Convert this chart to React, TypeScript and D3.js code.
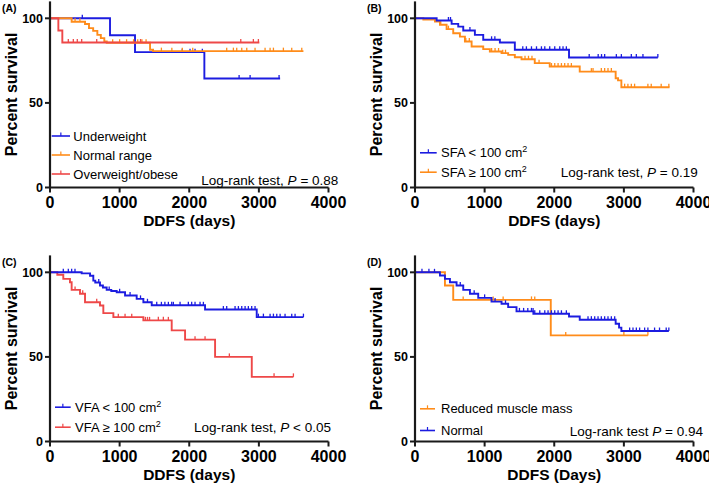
import React from "react";
import * as d3 from "d3";

const X_TICKS = [0, 1000, 2000, 3000, 4000];
const Y_TICKS = [0, 50, 100];

const BLUE = "#1c1ce0";
const ORANGE = "#ff8c1a";
const RED = "#ee4848";

// ---------- Panel A ----------
const aUnderT = [0, 862, 1221, 2217];
const aUnderS = [100, 90, 80, 64.4];
const aUnderEnd = 3305;
const aUnderC = [464, 1900, 2011, 2083, 2188, 2716, 2874, 3290];

const aNormT = [0, 311, 503, 560, 620, 680, 730, 780, 815, 1437, 1480];
const aNormS = [100, 98, 96.6, 94.2, 92.6, 90.2, 88.3, 86.3, 85.6, 81.4, 80.6];
const aNormEnd = 3640;
const aNormC = [360, 430, 900, 1000, 1100, 1200, 1260, 1320, 1380, 1600, 1750, 1900, 2050, 2538, 2634, 2682, 2754, 2826, 2945, 3089, 3161, 3209, 3352, 3472, 3616];

const aOverT = [0, 120, 177];
const aOverS = [100, 92.8, 85.7];
const aOverEnd = 3007;
const aOverC = [263, 335, 392, 455, 671, 1300, 2740, 2921, 2993];

// ---------- Panel B ----------
const bLowT = [0, 311, 526, 621, 693, 860, 980, 1219, 1434, 2212];
const bLowS = [100, 98.7, 96.7, 95.1, 92.8, 90.2, 87.3, 85.7, 81.4, 76.8];
const bLowEnd = 3488;
const bLowC = [480, 510, 789, 1100, 1147, 1548, 1600, 1673, 1745, 1816, 1864, 1935, 2007, 2079, 2126, 2174, 2502, 2631, 2679, 2724, 2892, 2964, 3107, 3179, 3274, 3488];

const bHighT = [0, 120, 287, 358, 454, 549, 645, 717, 813, 980, 1075, 1243, 1338, 1434, 1530, 1720, 1935, 2366, 2882, 2916, 2964];
const bHighS = [100, 99.3, 98.1, 96.2, 93.6, 91.2, 89.2, 86.3, 83.3, 81.8, 80.4, 79.4, 78.4, 77, 75.8, 73.5, 71.5, 68.5, 64.6, 63.3, 59.3];
const bHighEnd = 3656;
const bHighC = [370, 480, 730, 780, 1100, 1150, 1200, 1260, 1300, 1580, 1630, 1680, 1782, 1960, 2007, 2055, 2103, 2150, 2198, 2246, 2533, 2557, 2676, 2724, 2772, 2820, 3011, 3058, 3107, 3154, 3345, 3393, 3536, 3646];

// ---------- Panel C ----------
const cLowT = [0, 455, 575, 622, 650, 718, 760, 814, 880, 958, 1078, 1245, 1341, 1461, 2227, 2969];
const cLowS = [100, 99.4, 98, 95.1, 94, 92.2, 91, 89.6, 89, 88.2, 86.3, 84.3, 82.3, 80.5, 78, 73.5];
const cLowEnd = 3640;
const cLowC = [191, 263, 311, 359, 700, 850, 1000, 1150, 1300, 1400, 1533, 1600, 1650, 1700, 1748, 1772, 1868, 1987, 2035, 2083, 2155, 2203, 2490, 2538, 2658, 2706, 2754, 2802, 2849, 2897, 2945, 2993, 3065, 3161, 3209, 3257, 3305, 3376, 3472, 3520, 3640];

const cHighT = [0, 105, 191, 287, 311, 431, 503, 718, 766, 910, 1341, 1748, 1940, 2371, 2898];
const cHighS = [100, 98.6, 96.1, 94.1, 89.6, 87.3, 82.3, 80.4, 75.9, 73.5, 71.6, 65.7, 60.2, 50, 38.2];
const cHighEnd = 3496;
const cHighC = [360, 470, 671, 981, 1078, 1174, 1370, 1400, 1430, 1556, 1628, 1700, 2083, 2227, 2576, 3218, 3496];

// ---------- Panel D ----------
const dRedT = [0, 430, 549, 1950];
const dRedS = [100, 92.2, 83.7, 62.7];
const dRedEnd = 3345;
const dRedC = [692, 1123, 1266, 1673, 1720, 2165, 3000, 3345];

const dNormT = [0, 358, 430, 502, 597, 693, 789, 908, 1099, 1243, 1338, 1458, 1700, 2212, 2366, 2882, 2931, 2964];
const dNormS = [100, 98.1, 96.1, 94.1, 92.2, 89.6, 87.3, 84.9, 82.7, 81.4, 79.4, 76.9, 75.5, 73.9, 72, 69.6, 67.3, 65.3];
const dNormEnd = 3646;
const dNormC = [100, 200, 280, 650, 850, 1000, 1150, 1300, 1500, 1560, 1620, 1673, 1696, 1720, 1792, 1864, 1911, 1959, 2007, 2055, 2103, 2174, 2485, 2533, 2581, 2629, 2676, 2724, 2772, 2820, 2868, 3083, 3131, 3179, 3226, 3298, 3345, 3441, 3512, 3608, 3646];

type Series = { color: string; t: number[]; s: number[]; end: number; c: number[] };
type Legend = { label: string; color: string };

type PanelProps = {
  dx: number;
  dy: number;
  tag: string;
  series: Series[];
  legend: Legend[];
  legLine: [number, number];
  legTextX: number;
  legBase: number[];
  lrPrefix: string;
  lrSuffix: string;
  lrX: number;
  lrBase: number;
  xTitle: string;
};

function survAt(t: number[], s: number[], time: number) {
  let v = s[0];
  for (let i = 0; i < t.length; i++) if (t[i] <= time) v = s[i];
  return v;
}

function renderLabel(label: string) {
  const idx = label.indexOf("²");
  if (idx < 0) return label;
  return (
    <>
      {label.slice(0, idx)}
      <tspan dy={-5} fontSize={9}>2</tspan>
    </>
  );
}

function Panel(p: PanelProps) {
  const x0 = 50 + p.dx;
  const x1 = 328.5 + p.dx;
  const y0 = 187.5 + p.dy;
  const x = d3.scaleLinear().domain([0, 4000]).range([x0, x1]);
  const y = d3.scaleLinear().domain([0, 110]).range([y0, 1.4 + p.dy]);
  const line = d3
    .line<[number, number]>()
    .x((d) => x(d[0]))
    .y((d) => y(d[1]))
    .curve(d3.curveStepAfter);
  const font = "'Liberation Sans', Arial, sans-serif";
  return (
    <g fontFamily={font}>
      <text x={2 + p.dx} y={12 + p.dy} fontSize={10.5} fontWeight="bold">{p.tag}</text>
      <text
        transform={`translate(${17 + p.dx},${(y(0) + y(110)) / 2}) rotate(-90)`}
        textAnchor="middle"
        fontSize={16}
        fontWeight="bold"
      >
        Percent survival
      </text>
      {p.series.map((sr, i) => {
        const pts: [number, number][] = sr.t.map((t, k) => [t, sr.s[k]] as [number, number]);
        pts.push([sr.end, sr.s[sr.s.length - 1]]);
        return (
          <g key={i}>
            <path d={line(pts) || ""} fill="none" stroke={sr.color} strokeWidth={1.9} />
            {sr.c.map((ct, k) => {
              const v = survAt(sr.t, sr.s, ct);
              return (
                <line key={k} x1={x(ct)} x2={x(ct)} y1={y(v)} y2={y(v) - 3.5} stroke={sr.color} strokeWidth={1.3} />
              );
            })}
          </g>
        );
      })}
      {/* axes */}
      <line x1={x0} x2={x0} y1={y(0)} y2={y(110)} stroke="#1a1a1a" strokeWidth={2.2} />
      <line x1={x0} x2={x1} y1={y0} y2={y0} stroke="#1a1a1a" strokeWidth={2.2} />
      {Y_TICKS.map((v) => (
        <g key={v}>
          <line x1={x0 - 5} x2={x0} y1={y(v)} y2={y(v)} stroke="#1a1a1a" strokeWidth={2} />
          <text x={x0 - 7} y={y(v) + 4.5} textAnchor="end" fontSize={12.5} fontWeight="bold">{v}</text>
        </g>
      ))}
      {X_TICKS.map((v) => (
        <g key={v}>
          <line x1={x(v)} x2={x(v)} y1={y0} y2={y0 + 5} stroke="#1a1a1a" strokeWidth={2} />
          <text x={x(v)} y={y0 + 20} textAnchor="middle" fontSize={16} fontWeight="bold">{v}</text>
        </g>
      ))}
      <text x={(x0 + x1) / 2} y={y0 + 38} textAnchor="middle" fontSize={15.5} fontWeight="bold">{p.xTitle}</text>
      {/* legend */}
      {p.legend.map((lg, i) => {
        const by = p.legBase[i] + p.dy;
        const ly = by - 4.5;
        const lx1 = p.legLine[0] + p.dx;
        const lx2 = p.legLine[1] + p.dx;
        return (
          <g key={i}>
            <line x1={lx1} x2={lx2} y1={ly} y2={ly} stroke={lg.color} strokeWidth={1.6} />
            <line x1={(lx1 + lx2) / 2} x2={(lx1 + lx2) / 2} y1={ly} y2={ly - 3.5} stroke={lg.color} strokeWidth={1.2} />
            <text x={p.legTextX + p.dx} y={by} fontSize={13}>{renderLabel(lg.label)}</text>
          </g>
        );
      })}
      <text x={p.lrX + p.dx} y={p.lrBase + p.dy} textAnchor="end" fontSize={13.5}>
        {p.lrPrefix}
        <tspan fontStyle="italic">P</tspan>
        {p.lrSuffix}
      </text>
    </g>
  );
}

export default function App() {
  return (
    <svg width={709} height={485} style={{ position: "absolute", left: 0, top: 0, background: "#fff" }}>
      <rect width={709} height={485} fill="#fff" />
      <Panel
        dx={0}
        dy={0}
        tag="(A)"
        series={[
          { color: BLUE, t: aUnderT, s: aUnderS, end: aUnderEnd, c: aUnderC },
          { color: ORANGE, t: aNormT, s: aNormS, end: aNormEnd, c: aNormC },
          { color: RED, t: aOverT, s: aOverS, end: aOverEnd, c: aOverC },
        ]}
        legend={[
          { label: "Underweight", color: BLUE },
          { label: "Normal range", color: ORANGE },
          { label: "Overweight/obese", color: RED },
        ]}
        legLine={[51.7, 70]}
        legTextX={73.3}
        legBase={[140.5, 159.5, 178.5]}
        lrPrefix="Log-rank test, "
        lrSuffix=" = 0.88"
        lrX={338.3}
        lrBase={184.5}
        xTitle="DDFS (days)"
      />
      <Panel
        dx={365}
        dy={0}
        tag="(B)"
        series={[
          { color: ORANGE, t: bHighT, s: bHighS, end: bHighEnd, c: bHighC },
          { color: BLUE, t: bLowT, s: bLowS, end: bLowEnd, c: bLowC },
        ]}
        legend={[
          { label: "SFA < 100 cm²", color: BLUE },
          { label: "SFA ≥ 100 cm²", color: ORANGE },
        ]}
        legLine={[55, 71.7]}
        legTextX={76}
        legBase={[157.3, 176.7]}
        lrPrefix="Log-rank test, "
        lrSuffix=" = 0.19"
        lrX={332.7}
        lrBase={176.7}
        xTitle="DDFS (days)"
      />
      <Panel
        dx={0}
        dy={254}
        tag="(C)"
        series={[
          { color: RED, t: cHighT, s: cHighS, end: cHighEnd, c: cHighC },
          { color: BLUE, t: cLowT, s: cLowS, end: cLowEnd, c: cLowC },
        ]}
        legend={[
          { label: "VFA < 100 cm²", color: BLUE },
          { label: "VFA ≥ 100 cm²", color: RED },
        ]}
        legLine={[55, 70.7]}
        legTextX={75}
        legBase={[157.7, 177.7]}
        lrPrefix="Log-rank test, "
        lrSuffix=" < 0.05"
        lrX={331}
        lrBase={177.7}
        xTitle="DDFS (days)"
      />
      <Panel
        dx={365}
        dy={254}
        tag="(D)"
        series={[
          { color: ORANGE, t: dRedT, s: dRedS, end: dRedEnd, c: dRedC },
          { color: BLUE, t: dNormT, s: dNormS, end: dNormEnd, c: dNormC },
        ]}
        legend={[
          { label: "Reduced muscle mass", color: ORANGE },
          { label: "Normal", color: BLUE },
        ]}
        legLine={[55, 70]}
        legTextX={76}
        legBase={[159.3, 181]}
        lrPrefix="Log-rank test "
        lrSuffix=" = 0.94"
        lrX={338}
        lrBase={182}
        xTitle="DDFS (Days)"
      />
    </svg>
  );
}
